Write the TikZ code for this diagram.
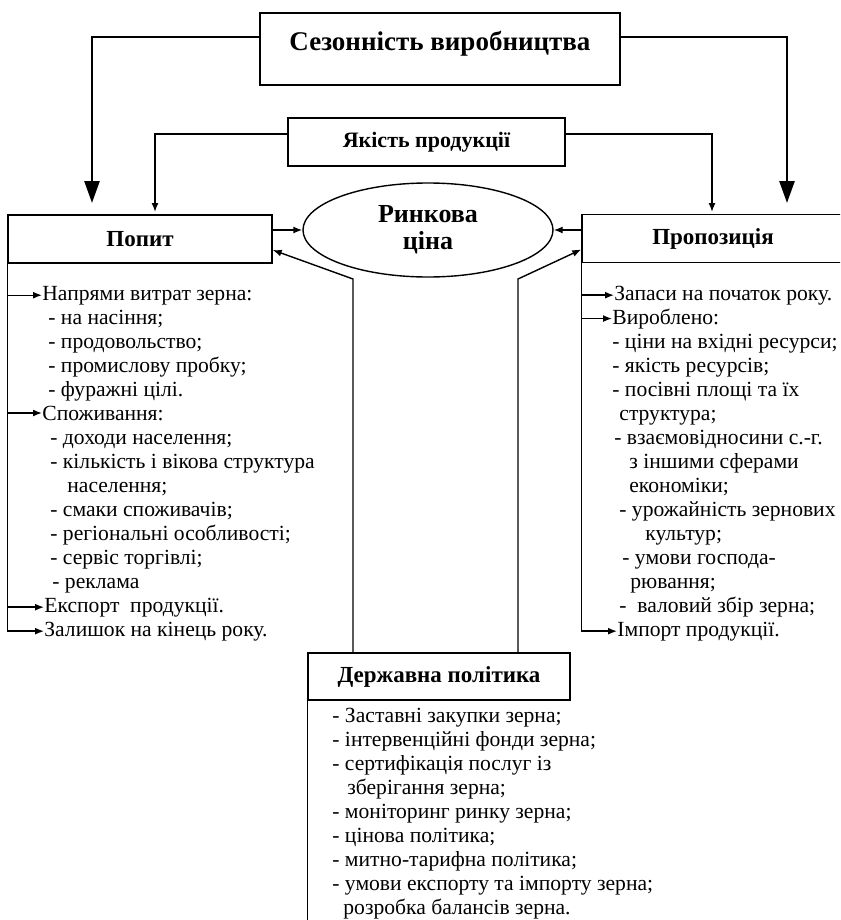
\documentclass[tikz,border=0pt]{standalone}
\usepackage{fontspec}
\setmainfont{Liberation Serif}
\usetikzlibrary{shapes.geometric,arrows.meta}
\tikzset{
  thin line/.style={line width=0.7pt},
  hdr/.style={draw,line width=0.7pt,inner sep=0pt,font=\bfseries\fontsize{11.5}{13}\selectfont},
  item/.style={inner sep=0pt,anchor=base west,font=\fontsize{10.8}{12}\selectfont},
  arr/.style={line width=0.7pt,-{Latex[length=4.5pt,width=3.5pt]}},
  bigarr/.style={line width=1.3pt,-{Triangle[length=11pt,width=7.5pt]},shorten >=6pt},
}
\begin{document}
\begin{tikzpicture}[x=0.5pt,y=-0.5pt]
    \useasboundingbox (0,0) rectangle (840,920);
    \clip (0,0) rectangle (840,920);
    \node[hdr,line width=1.3pt,minimum width=180pt,minimum height=36pt,text depth=8pt,font=\bfseries\fontsize{13.5}{15}\selectfont] (season) at (440,49) {Сезонність виробництва};
    \node[hdr,minimum width=138.5pt,minimum height=24pt,font=\bfseries\fontsize{11}{13}\selectfont] (quality) at (426.5,142) {Якість продукції};
    \node[hdr,minimum width=132pt,minimum height=24pt] (demand) at (140,239) {Попит};
    \node[hdr,minimum width=131pt,minimum height=24pt] (supply) at (713,238.5) {Пропозиція};
    \node[hdr,ellipse,minimum width=125pt,minimum height=47pt,align=center,font=\bfseries\fontsize{13}{13.5}\selectfont] (price) at (428,230) {Ринкова\\ціна};
    \node[hdr,minimum width=131pt,minimum height=23.5pt] (policy) at (439,676.5) {Державна політика};
    \coordinate (dIn) at (92,215);
    \coordinate (sIn) at (787,215);
    \coordinate (qL) at (155,215);
    \coordinate (qR) at (712,215);
    \coordinate (pL) at (353,279);
    \coordinate (pR) at (518,279);
    \draw[bigarr] ([yshift=6pt]season.west) -| (dIn);
    \draw[bigarr] ([yshift=6pt]season.east) -| (sIn);
    \draw[arr,shorten >=1.5pt] ([yshift=4pt]quality.west) -| (qL);
    \draw[arr,shorten >=1.5pt] ([yshift=4pt]quality.east) -| (qR);
    \draw[arr] (demand.east |- price.west) -- (price.west);
    \draw[arr] (supply.west |- price.east) -- (price.east);
    \draw[arr] (policy.north -| pL) -- (pL) -- ([yshift=-5.5pt]demand.east);
    \draw[arr] (policy.north -| pR) -- (pR) -- ([yshift=-5.5pt]supply.west);
    \foreach \dx/\n/\txt in {42/0/Напрями витрат зерна:, 48/1/- на насіння;, 48/2/- продовольство;,
        48/3/- промислову пробку;, 48/4/- фуражні цілі., 42/5/Споживання:, 50/6/- доходи населення;,
        50/7/- кількість і вікова структура, 67/8/населення;, 50/9/- смаки споживачів;,
        50/10/- регіональні особливості;, 50/11/- сервіс торгівлі;, 52/12/- реклама,
        44/13/Експорт~~продукції., 44/14/Залишок на кінець року.}
    \node[item] (d\n) at (\dx,{300+24*\n}) {\txt};
    \foreach \dx/\n/\txt in {614/0/Запаси на початок року., 612/1/Вироблено:, 612/2/- ціни на вхідні ресурси;,
        612/3/- якість ресурсів;, 612/4/- посівні площі та їх, 619/5/структура;, 614/6/- взаємовідносини с.-г.,
        629/7/з іншими сферами, 629/8/економіки;, 619/9/- урожайність зернових, 645/10/культур;,
        622/11/- умови господа-, 630/12/рювання;, 619/13/-~~валовий збір зерна;, 617/14/Імпорт продукції.}
    \node[item] (s\n) at (\dx,{300+24*\n}) {\txt};
    \foreach \dx/\n/\txt in {332/0/- Заставні закупки зерна;, 332/1/- інтервенційні фонди зерна;,
        332/2/- сертифікація послуг із, 347/3/зберігання зерна;, 332/4/- моніторинг ринку зерна;,
        332/5/- цінова політика;, 332/6/- митно-тарифна політика;, 332/7/- умови експорту та імпорту зерна;,
        343/8/розробка балансів зерна.}
    \node[item] (g\n) at (\dx,{722+24*\n}) {\txt};
    \draw[thin line] (demand.south west) -- (demand.south west |- d14.west);
    \foreach \n in {0,5,13,14}
    \draw[arr] (demand.south west |- d\n.west) -- (d\n.west);
    \draw[thin line] (supply.south west) -- (supply.south west |- s14.west);
    \foreach \n in {0,1,14}
    \draw[arr] (supply.south west |- s\n.west) -- (s\n.west);
    \draw[thin line] (policy.south west) -- ++(0,240);
\end{tikzpicture}
\end{document}
